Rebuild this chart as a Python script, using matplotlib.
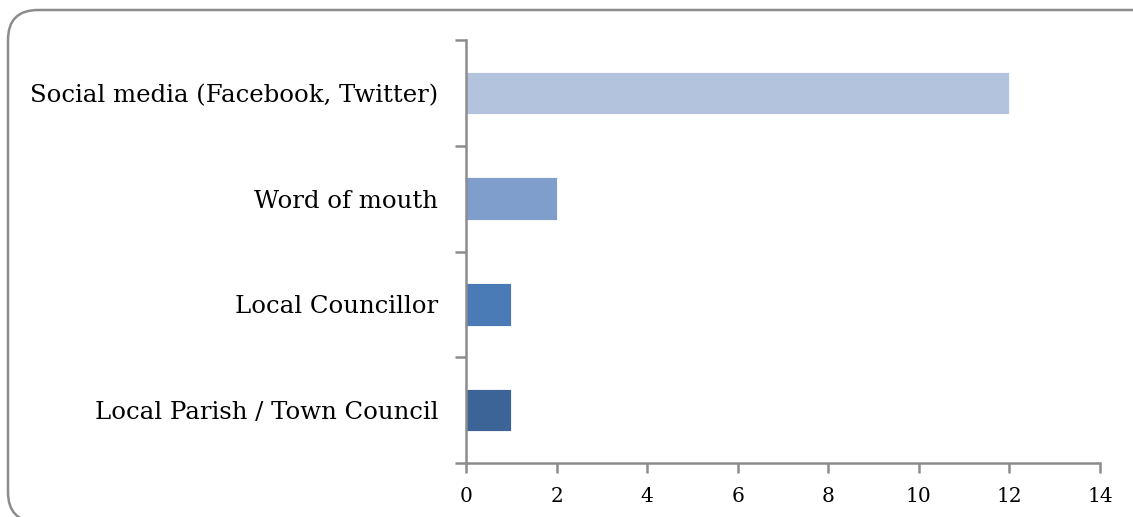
import numpy as np
import matplotlib
matplotlib.use('Agg')
import matplotlib.pyplot as plt
from matplotlib.patches import FancyBboxPatch

# data
categories = ['Local Parish / Town Council', 'Local Councillor',
              'Word of mouth', 'Social media (Facebook, Twitter)']
values = [1, 1, 2, 12]
colors = ['#3c6497', '#4a7bb7', '#7f9ecb', '#b4c3dd']
xticks = [0, 2, 4, 6, 8, 10, 12, 14]

plt.rcParams['font.family'] = ['DejaVu Serif']

fig = plt.figure(figsize=(11.33, 5.17), dpi=100)
ax = fig.add_axes([466/1133, 1 - 463/517, (1100 - 466)/1133, (463 - 40)/517])

# rounded outer frame (bottom and right edges fall just off the picture), in inches
frame = FancyBboxPatch((0.08, -0.05), 11.55, 5.12,
                       boxstyle='round,pad=0,rounding_size=0.3',
                       transform=fig.dpi_scale_trans, fill=False,
                       edgecolor='#8c8c8c', linewidth=1.8)
fig.patches.append(frame)

y = np.arange(len(categories))
ax.barh(y, values, height=0.4, color=colors, edgecolor='white', linewidth=0.6)

ax.set_xlim(0, 14)
ax.set_ylim(-0.5, len(categories) - 0.5)
ax.set_xticks(xticks)
ax.set_xticklabels([str(t) for t in xticks], fontsize=14.5)
ax.set_yticks(y)
ax.set_yticklabels(categories, fontsize=17.6)
ax.set_yticks(np.arange(-0.5, len(categories)), minor=True)
ax.tick_params(axis='y', which='major', length=0, pad=20)
ax.tick_params(axis='y', which='minor', length=8, width=1.8, color='#8c8c8c', direction='out')
ax.tick_params(axis='x', length=7, width=1.8, color='#8c8c8c', direction='out', pad=10)

for s in ['top', 'right']:
    ax.spines[s].set_visible(False)
for s in ['left', 'bottom']:
    ax.spines[s].set_color('#8c8c8c')
    ax.spines[s].set_linewidth(1.8)

fig.savefig('out.png', dpi=100)
